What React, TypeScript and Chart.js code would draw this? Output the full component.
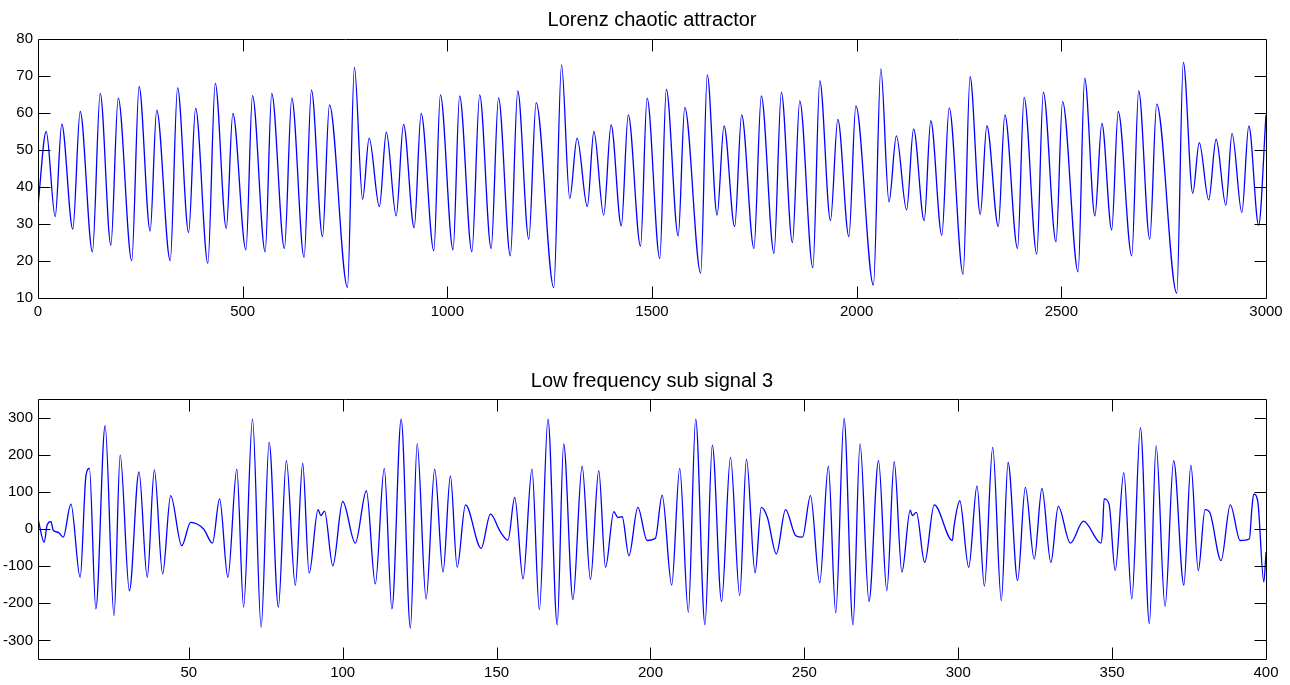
import React, { useEffect, useRef } from "react";
import { Chart, registerables } from "chart.js";

Chart.register(...registerables);

// ---------- Top plot: Lorenz chaotic attractor ----------
const lorenzT = [
  0, 20, 42, 58, 85, 103, 133, 152, 178, 196,
  229, 247, 274, 290, 323, 341, 368, 385, 415, 433,
  460, 476, 508, 524, 555, 571, 602, 620, 650, 668,
  695, 712, 756, 773, 793, 809, 834, 851, 875, 893,
  919, 936, 967, 983, 1014, 1030, 1060, 1079, 1107, 1125,
  1154, 1172, 1199, 1217, 1260, 1279, 1299, 1317, 1342, 1358,
  1382, 1400, 1425, 1442, 1472, 1488, 1519, 1535, 1564, 1580,
  1619, 1635, 1659, 1676, 1702, 1719, 1749, 1767, 1798, 1816,
  1843, 1861, 1893, 1910, 1936, 1954, 1981, 1998, 2041, 2059,
  2079, 2097, 2122, 2139, 2165, 2181, 2208, 2226, 2260, 2277,
  2302, 2318, 2346, 2362, 2393, 2409, 2440, 2456, 2487, 2503,
  2541, 2557, 2582, 2599, 2623, 2639, 2672, 2689, 2716, 2733,
  2782, 2798, 2821, 2837, 2860, 2878, 2902, 2917, 2941, 2958,
  2982, 3000,
];
const lorenzValue = [
  35, 55, 32, 57, 28.6, 60.4, 22.5, 65.3, 24.3, 64,
  20.1, 67.1, 28.1, 60.8, 20.1, 66.8, 27.7, 61.3, 19.4, 68,
  28.8, 59.9, 23, 64.7, 22.5, 65.3, 23.4, 64, 21, 66.2,
  26.6, 62.2, 12.9, 72.3, 36.7, 53.2, 34.7, 54.8, 32.2, 56.9,
  29, 59.9, 22.8, 64.9, 23, 64.6, 22.5, 64.9, 23.4, 64.1,
  21.4, 66, 25.9, 62.8, 12.8, 73, 36.9, 53.2, 34.7, 55,
  32.4, 56.8, 29.5, 59.5, 24, 64, 20.7, 66.4, 26.8, 61.5,
  16.7, 70.3, 32.4, 56.5, 29.3, 59.5, 23.4, 64.6, 22.1, 65.6,
  25, 63.3, 18.2, 68.7, 30.9, 58.3, 26.6, 61.9, 13.5, 71.9,
  36, 53.8, 33.8, 55.7, 30.9, 57.9, 27, 61.4, 16.4, 69.8,
  32.6, 56.6, 29.3, 59.5, 23.4, 64.2, 21.9, 65.6, 25.2, 63.1,
  17.1, 69.4, 32.2, 57.2, 28.4, 60.4, 21.4, 66, 25.9, 62.4,
  11.3, 73.7, 38.3, 52, 36.5, 52.9, 35.1, 54.5, 33.1, 56.5,
  29.7, 59.5,
];
const lorenzXTicks = [0, 500, 1000, 1500, 2000, 2500, 3000];
const lorenzYTicks = [10, 20, 30, 40, 50, 60, 70, 80];

// ---------- Bottom plot: Low frequency sub signal 3 ----------
const subT = [
  1.1, 3, 4, 5.2, 6, 7.6, 9.2, 11.7, 14.7, 16.6,
  17.7, 19.8, 22.8, 25.7, 27.7, 30.7, 33.8, 36.5, 38.8, 41.5,
  44.1, 47.7, 50.6, 54.8, 57.7, 60, 62.7, 65.6, 67.8, 70.7,
  73.5, 76.1, 79.1, 81.7, 84.6, 87, 89.1, 92, 92.9, 94.1,
  96.8, 100, 104.1, 107.7, 110.6, 113.5, 116, 119, 122, 124.2,
  127.1, 129.9, 132.6, 135, 137.2, 139.9, 145, 148, 151.2, 153.7,
  155.9, 158.6, 161.5, 163.9, 166.7, 169.7, 171.8, 174.8, 177.8, 180.5,
  183.2, 185.4, 188.1, 189.4, 190.8, 193, 195.9, 198.9, 201.6, 203.8,
  206.9, 209.5, 212.3, 214.7, 217.7, 220.1, 223.1, 226, 229, 231.2,
  234, 236, 238, 240.9, 243.9, 247.2, 249.4, 252, 255, 257.8,
  260.2, 262.9, 265.8, 268.1, 271, 274.1, 276.8, 279.2, 281.7, 284.4,
  285.1, 286.4, 289.1, 292.2, 298.1, 298.6, 300.5, 303.4, 306.1, 308.5,
  311.2, 314, 316.2, 319.3, 321.8, 324.7, 327.2, 330.1, 332.5, 336.4,
  340.7, 346.4, 346.9, 347.4, 349, 351, 353.8, 356.4, 359.2, 362.1,
  364.3, 367.2, 370, 373.3, 375.6, 378, 380.2, 381.7, 385.4, 388.4,
  391.6, 394.6, 395.4, 396, 397.3, 399.3, 400,
];
const subValue = [
  24, -36, 12, 20, -4, -9, -22, 67, -130, 145,
  163, -215, 278, -233, 199, -166, 154, -130, 159, -121,
  90, -45, 18, 0, -38, 81, -130, 161, -210, 296,
  -264, 233, -210, 184, -152, 177, -119, 52, 36, 48,
  -99, 74, -38, 103, -148, 163, -215, 296, -267, 229,
  -188, 161, -116, 143, -103, 65, -52, 40, -7, -30,
  85, -134, 161, -217, 296, -258, 229, -190, 169, -136,
  157, -103, 47, 31, 33, -72, 58, -31, -25, 91,
  -151, 163, -224, 296, -258, 226, -195, 193, -179, 188,
  -118, 58, 31, -67, 52, -18, -22, 90, -145, 169,
  -226, 298, -258, 229, -195, 184, -166, 181, -116, 51,
  36, 45, -90, 65, -31, 5, 76, -103, 116, -154,
  220, -193, 179, -139, 112, -81, 109, -90, 61, -38,
  21, -38, -4, 81, 67, -112, 152, -188, 273, -255,
  224, -208, 184, -151, 172, -112, 52, 45, -85, 65,
  -31, -27, 54, 94, 76, -143, -62,
];
const subXTicks = [50, 100, 150, 200, 250, 300, 350, 400];
const subYTicks = [-300, -200, -100, 0, 100, 200, 300];

const FONT = '"Liberation Sans", Arial, Helvetica, sans-serif';
const LINE_COLOR = "#0000ff";

const framePlugin = {
  id: "matlabFrame",
  afterDatasetsDraw(chart: any, _args: any, opts: any) {
    const { ctx } = chart;
    const { left, right, top, bottom } = chart.chartArea;
    const xs = chart.scales.x;
    const ys = chart.scales.y;
    const L = 12;
    ctx.save();
    ctx.strokeStyle = "#000";
    ctx.lineWidth = 1;
    ctx.beginPath();
    const l = Math.round(left) + 0.5;
    const r = Math.round(right) + 0.5;
    const t = Math.round(top) + 0.5;
    const b = Math.round(bottom) + 0.5;
    ctx.rect(l, t, r - l, b - t);
    xs.ticks.forEach((tk: any) => {
      const p = Math.round(xs.getPixelForValue(tk.value)) + 0.5;
      if (p < l + 2 || p > r - 2) return;
      ctx.moveTo(p, b);
      ctx.lineTo(p, b - L);
      ctx.moveTo(p, t);
      ctx.lineTo(p, t + L);
    });
    ys.ticks.forEach((tk: any) => {
      const p = Math.round(ys.getPixelForValue(tk.value)) + 0.5;
      if (p < t + 2 || p > b - 2) return;
      ctx.moveTo(l, p);
      ctx.lineTo(l + L, p);
      ctx.moveTo(r, p);
      ctx.lineTo(r - L, p);
    });
    ctx.stroke();
    ctx.fillStyle = "#000";
    ctx.font = `20px ${FONT}`;
    ctx.textAlign = "center";
    ctx.textBaseline = "middle";
    ctx.fillText(opts.text, (left + right) / 2, opts.y);
    ctx.restore();
  },
};

function buildConfig(
  xs: number[],
  ys: number[],
  xMin: number,
  xMax: number,
  yMin: number,
  yMax: number,
  xTicks: number[],
  yTicks: number[],
  title: string,
  titleY: number,
  padTop: number,
  xAxisHeight: number
): any {
  return {
    type: "line",
    data: {
      datasets: [
        {
          data: xs.map((x, i) => ({ x, y: ys[i] })),
          borderColor: LINE_COLOR,
          borderWidth: 1.3,
          pointRadius: 0,
          fill: false,
          cubicInterpolationMode: "monotone",
        },
      ],
    },
    options: {
      animation: false,
      responsive: false,
      devicePixelRatio: 1,
      layout: { padding: { top: padTop, right: 24, bottom: 0, left: 0 } },
      plugins: {
        legend: { display: false },
        tooltip: { enabled: false },
        title: { display: false },
        matlabFrame: { text: title, y: titleY },
      },
      scales: {
        x: {
          type: "linear",
          min: xMin,
          max: xMax,
          grid: { display: false, drawTicks: false, tickLength: 0 },
          border: { display: false },
          afterBuildTicks: (s: any) => {
            s.ticks = xTicks.map((v) => ({ value: v }));
          },
          afterFit: (s: any) => {
            s.height = xAxisHeight;
          },
          ticks: {
            color: "#000",
            font: { size: 15, family: FONT },
            padding: 5,
            maxRotation: 0,
            autoSkip: false,
            callback: (v: any) => String(v),
          },
        },
        y: {
          type: "linear",
          min: yMin,
          max: yMax,
          grid: { display: false, drawTicks: false, tickLength: 0 },
          border: { display: false },
          afterBuildTicks: (s: any) => {
            s.ticks = yTicks.map((v) => ({ value: v }));
          },
          afterFit: (s: any) => {
            s.width = 38;
          },
          ticks: {
            color: "#000",
            font: { size: 15, family: FONT },
            padding: 5,
            autoSkip: false,
            callback: (v: any) => String(v),
          },
        },
      },
    },
    plugins: [framePlugin],
  };
}

export default function App() {
  const topRef = useRef<HTMLCanvasElement | null>(null);
  const botRef = useRef<HTMLCanvasElement | null>(null);

  useEffect(() => {
    document.body.style.margin = "0";
    document.body.style.background = "#fff";
    const c1 = new Chart(
      topRef.current as HTMLCanvasElement,
      buildConfig(
        lorenzT,
        lorenzValue,
        0,
        3000,
        10,
        80,
        lorenzXTicks,
        lorenzYTicks,
        "Lorenz chaotic attractor",
        20,
        39,
        44
      )
    );
    const c2 = new Chart(
      botRef.current as HTMLCanvasElement,
      buildConfig(
        subT,
        subValue,
        1,
        400,
        -350,
        350,
        subXTicks,
        subYTicks,
        "Low frequency sub signal 3",
        39,
        57,
        26
      )
    );
    return () => {
      c1.destroy();
      c2.destroy();
    };
  }, []);

  return (
    <div style={{ position: "relative", width: 1290, height: 685, background: "#fff" }}>
      <canvas
        ref={topRef}
        width={1290}
        height={342}
        style={{ position: "absolute", left: 0, top: 0, width: 1290, height: 342 }}
      />
      <canvas
        ref={botRef}
        width={1290}
        height={343}
        style={{ position: "absolute", left: 0, top: 342, width: 1290, height: 343 }}
      />
    </div>
  );
}
